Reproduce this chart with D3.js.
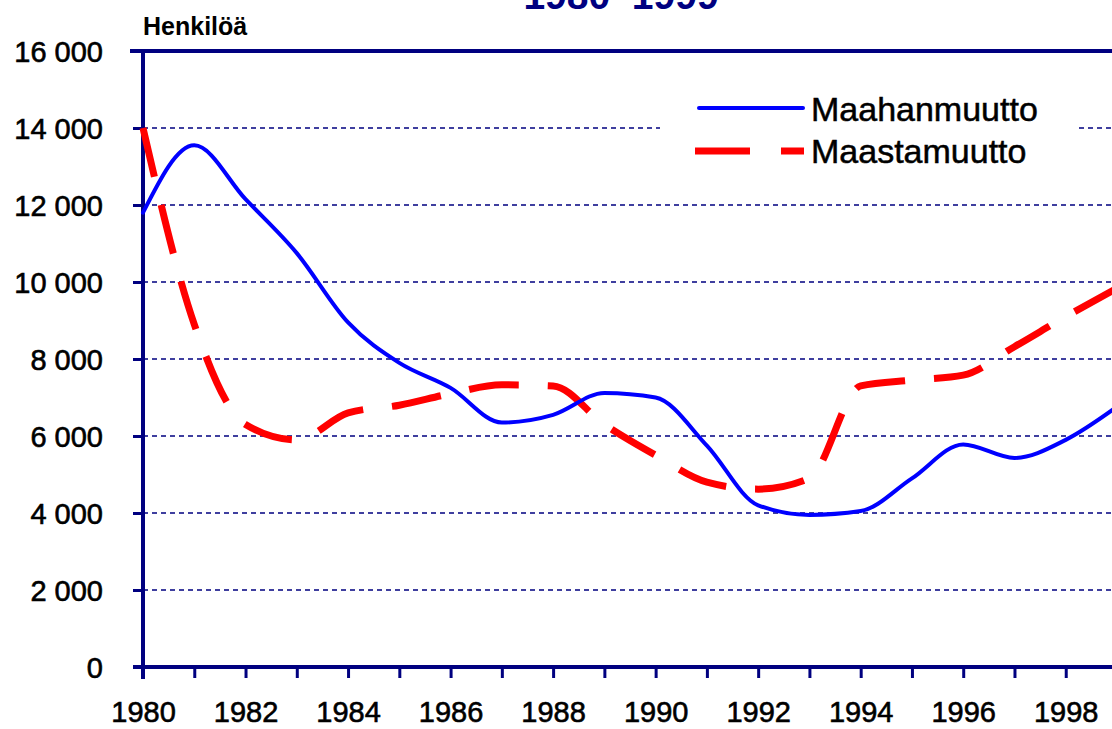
<!DOCTYPE html>
<html>
<head>
<meta charset="utf-8">
<script src="https://cdn.jsdelivr.net/npm/d3@7"></script>
<style>
  body { margin: 0; background: #fff; }
  svg { display: block; font-family: "Liberation Sans", Arial, sans-serif; }
</style>
</head>
<body>
<div id="chart"></div>
<script>
// data
var years = [1980, 1981, 1982, 1983, 1984, 1985, 1986, 1987, 1988, 1989,
             1990, 1991, 1992, 1993, 1994, 1995, 1996, 1997, 1998, 1999];
var maahanmuutto = [11800, 13550, 12150, 10750, 8950, 7900, 7250, 6350, 6550, 7120,
                    7000, 5750, 4200, 3950, 4050, 4900, 5780, 5430, 5900, 6760];
var maastamuutto = [14000, 8900, 6300, 5900, 6600, 6800, 7100, 7330, 7300, 6300,
                    5500, 4800, 4620, 4900, 7300, 7450, 7580, 8320, 9100, 9840];
var yTicks = [0, 2000, 4000, 6000, 8000, 10000, 12000, 14000, 16000];
var seriesNames = ["Maahanmuutto", "Maastamuutto"];
var titleText = "1980\u20131999";
var yLabel = "Henkilöä";

var W = 1112, H = 729;
var navy = "#000080";

var svg = d3.select("#chart").append("svg")
    .attr("width", W)
    .attr("height", H);

// scales
var x = d3.scaleLinear().domain([1980, 1999]).range([143, 1117]);
var y = d3.scaleLinear().domain([0, 16000]).range([667, 51]);

// title (only its lower part is visible, as in the original)
svg.append("text")
    .attr("x", 621).attr("y", 9)
    .attr("text-anchor", "middle")
    .style("font-size", "39px").style("font-weight", "bold")
    .style("fill", navy)
    .text(titleText);

// y label
svg.append("text")
    .attr("x", 143).attr("y", 35)
    .style("font-size", "25px").style("font-weight", "bold")
    .style("fill", "#000")
    .text(yLabel);

// grid lines
svg.append("g")
  .selectAll("line")
  .data(yTicks.filter(function(d) { return d > 0 && d < 16000; }))
  .enter().append("line")
    .attr("x1", 143).attr("x2", W)
    .attr("y1", function(d) { return y(d); })
    .attr("y2", function(d) { return y(d); })
    .style("stroke", navy)
    .style("stroke-width", 1.6)
    .style("stroke-dasharray", "5,4");

// legend background hides the grid
svg.append("rect")
    .attr("x", 660).attr("y", 80)
    .attr("width", 417).attr("height", 105)
    .style("fill", "#fff");

// Y axis
var yAxis = svg.append("g")
    .attr("transform", "translate(143,0)")
    .call(d3.axisLeft(y).tickValues(yTicks).tickSize(10).tickSizeOuter(0).tickPadding(30)
      .tickFormat(function(d) { return d3.format(",")(d).replace(/,/g, " "); }));
yAxis.select(".domain").remove();
yAxis.selectAll(".tick line").style("stroke", navy).style("stroke-width", 3);
yAxis.selectAll(".tick text")
    .style("font-size", "29px").style("fill", "#000")
    .style("stroke", "#000").style("stroke-width", 0.6)
    .attr("dy", "0.36em");

// X axis
var xAxis = svg.append("g")
    .attr("transform", "translate(0,667)")
    .call(d3.axisBottom(x).tickValues(years).tickSize(11).tickSizeOuter(0)
      .tickFormat(function(d) { return d % 2 === 0 ? d : ""; }));
xAxis.select(".domain").remove();
xAxis.selectAll(".tick line").style("stroke", navy).style("stroke-width", 3);
xAxis.selectAll(".tick text")
    .attr("y", 55).attr("dy", 0)
    .style("font-size", "29px").style("fill", "#000")
    .style("stroke", "#000").style("stroke-width", 0.6);

// axis lines and top frame
svg.append("line")
    .attr("x1", 143).attr("x2", 143).attr("y1", 51).attr("y2", 679)
    .style("stroke", navy).style("stroke-width", 4);
svg.append("line")
    .attr("x1", 133).attr("x2", W).attr("y1", 667).attr("y2", 667)
    .style("stroke", navy).style("stroke-width", 4);
svg.append("line")
    .attr("x1", 130).attr("x2", W).attr("y1", 51).attr("y2", 51)
    .style("stroke", navy).style("stroke-width", 4);

// lines
var lineIn = d3.line()
    .curve(d3.curveMonotoneX)
    .x(function(d, i) { return x(years[i]); })
    .y(function(d) { return y(d); });

svg.append("path")
    .datum(maastamuutto)
    .attr("d", lineIn)
    .style("fill", "none")
    .style("stroke", "#ff0000")
    .style("stroke-width", 7)
    .style("stroke-dasharray", "50,29");

svg.append("path")
    .datum(maahanmuutto)
    .attr("d", lineIn)
    .style("fill", "none")
    .style("stroke", "#0000ff")
    .style("stroke-width", 4)
    .style("stroke-linejoin", "round")
    .style("stroke-linecap", "round");

// legend
var legend = svg.append("g");
legend.append("line")
    .attr("x1", 699).attr("x2", 803).attr("y1", 108).attr("y2", 108)
    .style("stroke", "#0000ff").style("stroke-width", 4).style("stroke-linecap", "round");
legend.append("line")
    .attr("x1", 695).attr("x2", 804).attr("y1", 151).attr("y2", 151)
    .style("stroke", "#ff0000").style("stroke-width", 7).style("stroke-dasharray", "55,31");
legend.selectAll("text")
  .data(seriesNames)
  .enter().append("text")
    .attr("x", 811)
    .attr("y", function(d, i) { return 121 + i * 42; })
    .style("font-size", "34px").style("fill", "#000")
    .style("stroke", "#000").style("stroke-width", 0.5)
    .text(function(d) { return d; });
</script>
</body>
</html>
